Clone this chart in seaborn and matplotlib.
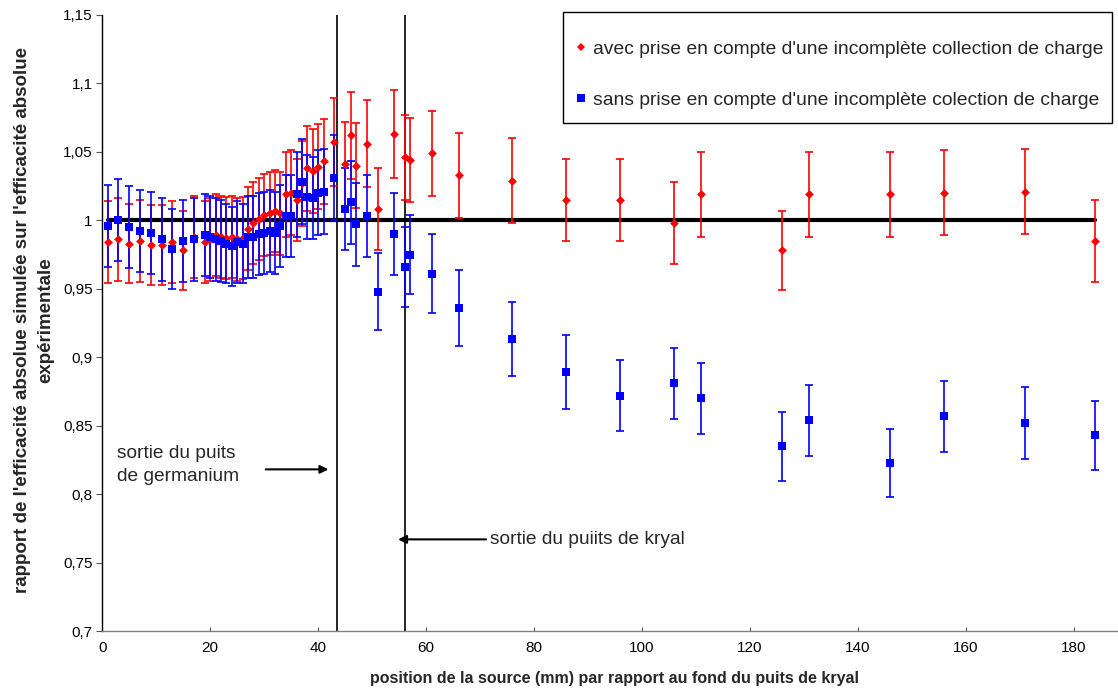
import matplotlib
matplotlib.use("Agg")
import matplotlib.pyplot as plt
import pandas as pd
import seaborn as sns
from matplotlib.ticker import FuncFormatter, FixedLocator
from matplotlib.lines import Line2D
from matplotlib.patches import Rectangle

# ---------------- data ----------------
positions = [1, 3, 5, 7, 9, 11, 13, 15, 17, 19,
             20, 21, 22, 23, 24, 25, 26, 27, 28, 29, 30, 31, 32, 33, 34, 35, 36, 37, 38, 39, 40, 41,
             43, 45, 46, 47, 49, 51, 54, 56, 57,
             61, 66, 76, 86, 96, 106, 111, 126, 131, 146, 156, 171, 184]

avec = [0.984, 0.986, 0.983, 0.985, 0.982, 0.982, 0.984, 0.978, 0.988, 0.984,
        0.986, 0.989, 0.988, 0.987, 0.988, 0.986, 0.987, 0.994, 0.998, 1.001, 1.004, 1.005,
        1.007, 1.005, 1.019, 1.020, 1.015, 1.027, 1.038, 1.036, 1.039, 1.043,
        1.057, 1.041, 1.062, 1.040, 1.056, 1.008, 1.063, 1.046, 1.044,
        1.049, 1.033, 1.029, 1.015, 1.015, 0.998, 1.019, 0.978, 1.019, 1.019, 1.020, 1.021, 0.985]
avec_err = [0.030, 0.030, 0.029, 0.030, 0.029, 0.029, 0.030, 0.029, 0.030, 0.030,
            0.030, 0.030, 0.030, 0.030, 0.030, 0.030, 0.030, 0.030, 0.030, 0.030, 0.030, 0.030,
            0.030, 0.030, 0.031, 0.031, 0.030, 0.031, 0.031, 0.031, 0.031, 0.031,
            0.032, 0.031, 0.032, 0.031, 0.032, 0.030, 0.032, 0.031, 0.031,
            0.031, 0.031, 0.031, 0.030, 0.030, 0.030, 0.031, 0.029, 0.031, 0.031, 0.031, 0.031, 0.030]

sans = [0.996, 1.000, 0.995, 0.992, 0.991, 0.986, 0.979, 0.985, 0.986, 0.989,
        0.988, 0.986, 0.985, 0.983, 0.981, 0.984, 0.983, 0.988, 0.988, 0.990, 0.991, 0.992,
        0.991, 0.996, 1.003, 1.003, 1.019, 1.028, 1.017, 1.016, 1.020, 1.021,
        1.031, 1.008, 1.013, 0.997, 1.003, 0.948, 0.990, 0.966, 0.975,
        0.961, 0.936, 0.913, 0.889, 0.872, 0.881, 0.870, 0.835, 0.854, 0.823, 0.857, 0.852, 0.843]
sans_err = [0.030, 0.030, 0.030, 0.030, 0.030, 0.030, 0.029, 0.030, 0.030, 0.030,
            0.030, 0.030, 0.030, 0.029, 0.029, 0.030, 0.029, 0.030, 0.030, 0.030, 0.030, 0.030,
            0.030, 0.030, 0.030, 0.030, 0.031, 0.031, 0.031, 0.030, 0.031, 0.031,
            0.031, 0.030, 0.030, 0.030, 0.030, 0.028, 0.030, 0.029, 0.029,
            0.029, 0.028, 0.027, 0.027, 0.026, 0.026, 0.026, 0.025, 0.026, 0.025, 0.026, 0.026, 0.025]

ref_x = [1, 184]
ref_y = [1.0, 1.0]
sortie_x = [43.5, 56]

x_ticks = [0, 20, 40, 60, 80, 100, 120, 140, 160, 180]
y_ticks = [0.7, 0.75, 0.8, 0.85, 0.9, 0.95, 1.0, 1.05, 1.1, 1.15]

label_avec = "avec prise en compte d'une incomplète collection de charge"
label_sans = "sans prise en compte d'une incomplète colection de charge"
xlabel = "position de la source (mm) par rapport au fond du puits de kryal"
ylabel = "rapport de l'efficacité absolue simulée sur l'efficacité absolue\nexpérimentale"

df = pd.DataFrame({"position": positions, "avec": avec, "avec_err": avec_err,
                   "sans": sans, "sans_err": sans_err})
ref = pd.DataFrame({"x": ref_x, "y": ref_y})

# ---------------- style ----------------
sns.set_theme(style="white")
plt.rcParams['font.family'] = ['Liberation Sans', 'DejaVu Sans']

RED = "#FF0000"
BLUE = "#0000FF"

W, H = 1118, 693
fig = plt.figure(figsize=(W / 100, H / 100), dpi=100)
x0, x1 = 102.3, 1118.0
y_top, y_bot = 14.8, 631.3
ax = fig.add_axes([x0 / W, (H - y_bot) / H, (x1 - x0) / W, (y_bot - y_top) / H])

# reference line at 1
sns.lineplot(data=ref, x="x", y="y", color="black", linewidth=3.0, ax=ax, zorder=1,
             legend=False)
for xv in sortie_x:
    ax.axvline(xv, color="black", linewidth=1.2, zorder=1)

# error bars
ax.errorbar(df["position"], df["avec"], yerr=df["avec_err"], fmt="none", ecolor=RED,
            elinewidth=1.2, capsize=2.9, capthick=1.2, zorder=2)
ax.errorbar(df["position"], df["sans"], yerr=df["sans_err"], fmt="none", ecolor=BLUE,
            elinewidth=1.2, capsize=2.9, capthick=1.2, zorder=2)

# markers
sns.scatterplot(data=df, x="position", y="avec", marker="D", s=20, color=RED,
                linewidth=0, ax=ax, zorder=3)
sns.scatterplot(data=df, x="position", y="sans", marker="s", s=27, color=BLUE,
                linewidth=0, ax=ax, zorder=4)

ax.set_xlim(0, (x1 - x0) / 5.397)
ax.set_ylim(0.7, 1.15)

ax.xaxis.set_major_locator(FixedLocator(x_ticks))
ax.yaxis.set_major_locator(FixedLocator(y_ticks))


def comma(v, pos):
    s = f"{v:.2f}".rstrip("0").rstrip(".")
    return s.replace(".", ",")


ax.yaxis.set_major_formatter(FuncFormatter(comma))

for side in ["top", "right"]:
    ax.spines[side].set_visible(False)
ax.spines["left"].set_color("black")
ax.spines["left"].set_linewidth(1.0)
ax.spines["bottom"].set_color("#808080")
ax.spines["bottom"].set_linewidth(1.0)

ax.tick_params(axis="y", direction="out", length=4, width=0.8, color="#555555",
               labelsize=11, pad=3, left=True, labelcolor="black")
ax.tick_params(axis="x", direction="in", length=3, width=0.8, color="#555555",
               labelsize=11, pad=7, bottom=True, labelcolor="black")

ax.set_xlabel(xlabel, fontsize=11.5, fontweight="bold")
ax.set_ylabel(ylabel, fontsize=13.5, fontweight="bold", linespacing=1.5)
ax.xaxis.label.set_va("center")
ax.xaxis.set_label_coords((614 - x0) / (x1 - x0), -(678 - y_bot) / (y_bot - y_top))
ax.yaxis.label.set_va("center")
ax.yaxis.set_label_coords((34 - x0) / (x1 - x0), 0.505)

# annotations
ax.text(2.7, 0.8214, "sortie du puits\nde germanium", fontsize=13.8, ha="left",
        va="center", linespacing=1.5)
ax.annotate("", xy=(41.9, 0.8182), xytext=(30.3, 0.8182),
            arrowprops=dict(arrowstyle="-|>", color="black", lw=1.5,
                            mutation_scale=12, shrinkA=0, shrinkB=0))
ax.annotate("", xy=(54.8, 0.7671), xytext=(71.1, 0.7671),
            arrowprops=dict(arrowstyle="-|>", color="black", lw=1.5,
                            mutation_scale=12, shrinkA=0, shrinkB=0))
ax.text(71.8, 0.7671, "sortie du puiits de kryal", fontsize=13.8, ha="left", va="center")

# legend: frame drawn as a rectangle, entries as a frameless figure legend
frame = Rectangle((563 / W, 1 - 123 / H), (1112 - 563) / W, (123 - 12) / H,
                  transform=fig.transFigure, facecolor="white", edgecolor="black",
                  linewidth=1.0, zorder=3)
fig.patches.append(frame)
h1 = Line2D([], [], marker="D", color=RED, linestyle="none", markersize=4.5,
            markeredgewidth=0)
h2 = Line2D([], [], marker="s", color=BLUE, linestyle="none", markersize=5.4,
            markeredgewidth=0)
leg = fig.legend([h1, h2], [label_avec, label_sans], loc="upper left",
                 bbox_to_anchor=(576 / W, 1 - 40 / H), bbox_transform=fig.transFigure,
                 borderaxespad=0, frameon=False, fontsize=13.9, labelspacing=1.75,
                 handlelength=0.55, handletextpad=0.35, borderpad=0)
leg.set_zorder(5)

fig.savefig("out.png", dpi=100, facecolor="white")
